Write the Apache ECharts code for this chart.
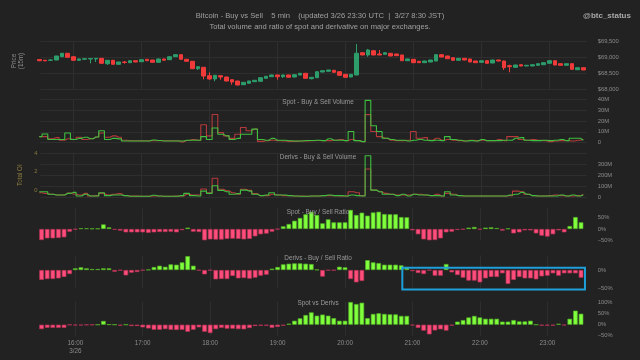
<!DOCTYPE html>
<html><head><meta charset="utf-8">
<script src="https://cdn.jsdelivr.net/npm/echarts@6/dist/echarts.min.js"></script>
<style>html,body{margin:0;padding:0;background:#222222;}#c{width:640px;height:360px;}</style>
</head><body><div id="c"></div>
<script>
// ---------- data ----------
const startTime = [2024, 2, 26, 15, 30]; // 3/26 15:30 (local)
const stepMinutes = 5;
const dateLabel = '3/26';

// [open, close, low, high]
const priceOHLC = [
[68922,68884,68870,68930],[68900,68880,68870,68905],[68897,68906,68890,68930],[68906,69031,68900,69035],
[69009,69116,69000,69125],[69116,68991,68985,69120],[69009,68897,68890,69015],[68897,68938,68890,68945],
[68928,68947,68920,68955],[68938,68953,68803,68960],[68940,68959,68844,68965],[68959,68803,68795,68965],
[68791,68897,68750,68900],[68897,68772,68765,68905],[68772,68844,68765,68850],[68844,68830,68791,68875],
[68822,68884,68815,68890],[68884,68844,68838,68890],[68853,68916,68845,68925],[68928,68884,68878,68935],
[68906,68834,68828,68912],[68834,68938,68828,68945],[68938,68897,68890,68945],[68916,69009,68910,69015],
[69009,69072,69000,69080],[69072,68928,68920,69080],[68928,68866,68860,68935],[68866,68634,68625,68870],
[68634,68697,68594,68705],[68678,68406,68303,68685],[68416,68313,68291,68522],[68313,68428,68241,68435],
[68416,68375,68291,68420],[68375,68250,68240,68380],[68291,68219,68134,68300],[68250,68125,68115,68255],
[68134,68209,68125,68215],[68178,68250,68170,68255],[68228,68272,68220,68280],[68241,68353,68235,68360],
[68334,68397,68328,68405],[68384,68438,68378,68445],[68438,68384,68291,68445],[68384,68438,68345,68445],
[68438,68366,68360,68445],[68375,68447,68368,68455],[68438,68491,68430,68498],[68491,68334,68328,68498],
[68322,68366,68300,68375],[68353,68541,68345,68548],[68531,68572,68525,68580],[68553,68594,68548,68600],
[68584,68522,68515,68590],[68541,68428,68420,68548],[68459,68366,68360,68465],[68375,68459,68368,68465],
[68438,69116,68430,69406],[69134,69063,69055,69140],[69063,69219,69009,69250],[69197,69063,69055,69205],
[69094,69063,69055,69219],[69084,69134,69078,69140],[69116,69031,69025,69122],[69094,69041,69035,69100],
[69063,68884,68878,69070],[68884,68938,68878,68945],[68928,68822,68815,68935],[68866,68822,68815,68872],
[68822,68875,68815,68882],[68844,68906,68838,68912],[68875,69072,68868,69080],[69072,69000,68994,69080],
[69031,68947,68940,69038],[68978,68897,68890,68985],[68897,68959,68890,68965],[68959,68906,68900,68965],
[68938,68844,68838,68945],[68875,68822,68815,68882],[68834,68884,68828,68890],[68884,68803,68796,68890],
[68813,68906,68806,68912],[68906,68875,68868,68912],[68875,68666,68594,68882],[68728,68697,68522,68759],
[68678,68750,68670,68756],[68759,68719,68712,68765],[68719,68741,68712,68748],[68719,68759,68712,68765],
[68741,68791,68735,68798],[68759,68822,68752,68828],[68803,68884,68796,68890],[68884,68750,68744,68890],
[68791,68741,68735,68798],[68741,68791,68735,68798],[68791,68616,68610,68798],[68603,68666,68597,68672],
[68666,68594,68588,68672]
];

// Spot volume (M)
const spotBuy = [5.6,8,3,3,3,9,3,4,5,3.7, 5.3,11,3,4,3.5,1.6,1.5,1.5,1.5,1.5, 2.5,2,1.5,1.5,1.5,1.5,2.3,2.3,2.3,5.6,
 3,13.5,7.8,6.3,3,4,7.8,7.8,12.5,3, 2.3,4,2.3,2.3,1.8,1.5,1.5,2,2,2.3,
 1.9,3.7,2.3,2.3,1.9,10.3,1.9,1,39,15.6, 10.3,4.1,3,2.3,2.3,1.5,2.3,3,2.3,1.9,
 2.3,1.9,5.6,3,2.3,1.5,1.9,1.5,3,1.9, 1.9,1.9,2.3,2.3,4.1,4.7,2.3,1.9,1.9,2.3, 1.9,2.3,3,1.9,4.1,4.1,2.3];
const spotSell = [5.6,5.6,3.6,4.7,2.3,3.7,3,5,3,3.7, 5.3,9,5,6.3,5,2.3,1.8,1.8,1.8,1.8, 1.8,1.8,1.8,1.8,1.8,0.8,2,3,2.3,16.5,
 6.3,26,9.3,6.3,4,7.8,14,11,12.5,1.2, 1.8,2.3,1.8,1.5,1.2,1.2,1.5,1.5,1.8,2,
 1.9,1.9,2.3,3,1.9,3,1.9,1,25.9,10.3, 5.6,4.1,2.3,1.9,1.9,2.3,10.3,4.1,4.7,2.3,
 4.1,2.3,3,2.3,1.9,1.5,2.3,1.9,2.3,1.9, 1.9,3,1.9,5.6,5.6,3,2.3,3,2.3,1.9, 1,1.5,1.9,1.9,1.5,2.3,3];

// Derivatives volume (M)
const derivBuy = [50,50,27,21,21,35,44,12,27,12, 12,41,15,21,21,15,10,10,10,10, 18,12,10,10,10,15,35,15,12,56,
 35,104,62,50,27,33,65,56,27,15, 21,41,21,21,15,12,10,10,12,12,
 15,21,15,15,12,21,15,12,375,65, 50,27,27,15,27,12,27,21,21,15,
 15,12,50,21,15,12,12,12,12,12, 12,12,12,21,27,44,27,15,12,12, 12,12,21,12,21,12,21];
const derivSell = [41,35,27,21,21,38,30,21,35,12, 15,35,21,27,33,15,12,12,10,10, 12,12,10,10,12,12,27,21,21,75,
 41,171,72,59,41,27,72,62,33,15, 15,27,21,15,15,12,12,10,12,12,
 15,15,15,12,12,50,41,15,255,65, 50,35,27,21,21,21,27,27,21,15,
 27,12,35,27,15,12,12,12,12,12, 12,12,12,15,56,50,27,15,12,12, 15,21,15,12,12,15,27];

// Ratios (%)
const spotRatio = [-48,-40.6,-40.6,-39,-36,-11.6,-2,3,3,2, 2,20,7,-3,-7,-14.5,-14.5,-14.5,-14.5,-17,
 -14.5,-13,-13,-11.6,-14.5,-5,6,-11.6,-13,-49, -45,-46,-46,-43,-42,-43,-45,-43,-32,-23,
 -20,-11.6,-1,11.6,21.7,36,48,64,75,61, 24.6,42,29,29,29,83,61,71,58,72,
 75,65,64,64,52,51,-6,-23,-45,-49, -48,-40.6,-14.5,-11.6,-4,-2,6,8.7,-2,6,
 7,4,-7,2,-19,-14.5,-6,-6,-19,-29, -33,-23,-6,-14.5,13,52,29];
const derivRatio = [-27,-24.6,-24.6,-22.8,-19,-11,4.6,7.3,4.6,2.7, 2.7,4.6,4.6,-4.6,-1,-14.6,-7.3,-5.5,-1,1,
 8.2,11.8,9,15.5,14.6,21,38,11.8,-1,-11.8, -1,-25.5,-24.6,-24.6,-16.4,-22.8,-21.9,-23.7,-21,-15.5,
 -12.8,3.6,8.2,15.5,17.3,18.2,18.2,17.3,16.4,1, -18,-1,-1,9,7.3,-24.6,-33.7,-30,27,21,
 19,14.6,14.6,14.6,12.8,8.2,-3,-8.2,-11,-1, -15.5,-15.5,16.4,-6.4,-13.7,-21,-29,-29,-33.7,-22.8,
 -19,-19,-9,-38,-27,-19,-22.8,-22.8,-25.5,-17.3, -15.5,-9,-15.5,-9,-9,-9,-21];
const spotVsDeriv = [-20,-14,-14,-14,-14,-1,-3,-3,-1,-1, 0,17,1,0,-4,0,-6,-6,-12,-17,
 -23,-23,-20,-23,-24,-23,-32,-23,-12,-32, -38,-20,-14,-18,-18,-20,-21,-15,-6,-4.5,
 -4.5,-14,-10,-4.5,4.5,18,29,44,56,41, 46,41,30,18,18,103,94,100,30,49,
 52,49,47,47,40,40,-3,-14,-27,-44, -26,-21,-27,-4,14,21,33,40,33,27,
 27,27,14,14,21,15,15,18,0,-4, -4,-4,4,-3,27,64,50];

// highlighted box on the derivs ratio panel: [from bar, to bar, top %, bottom %]
const highlightBox = [64.2, 96.7, 6, -53];

// ---------- build ----------
const MIN = 60000, HOUR = 3600000;
const t0 = new Date(startTime[0], startTime[1], startTime[2], startTime[3], startTime[4]).getTime();
const tAt = k => t0 + k * stepMinutes * MIN;
const times = priceOHLC.map((_, i) => tAt(i));
const tMin = tAt(0.2), tMax = tAt(96.6);

const FONT = "'Liberation Sans', Arial, sans-serif";
const TXT = '#8c8c8c';
const GRIDC = '#2e2e2e';
const CAND_UP = '#2e9d6c', CAND_DN = '#f03a3a';
const LINE_G = '#3fbf3f', LINE_R = '#b53a3c';
const BAR_G = '#80ff3c', BAR_GB = '#55b02a', BAR_R = '#ff4d7c', BAR_RB = '#b83458';

const GL = 40.4, GR = 53.3;
const gridDefs = [
  {top: 41, height: 48},
  {top: 99.3, height: 43.4},
  {top: 152.9, height: 44.4},
  {top: 208.3, height: 32.2},
  {top: 255.4, height: 32.9},
  {top: 301.6, height: 34.1}
];

const labelStyle = {color: TXT, fontSize: 5.8, fontFamily: FONT, margin: 11};
function xAxis(i, show) {
  return {
    type: 'time', gridIndex: i, min: tMin, max: tMax,
    minInterval: HOUR, maxInterval: HOUR, splitNumber: 8,
    axisLine: {show: false}, axisTick: {show: false},
    splitLine: {show: true, showMinLine: false, showMaxLine: false, lineStyle: {color: GRIDC, width: 1}},
    axisLabel: {
      show: show, color: TXT, fontSize: 6.3, fontFamily: FONT, margin: 4, lineHeight: 7.5,
      hideOverlap: false,
      formatter: function (v) {
        const d = new Date(v);
        if (d.getMinutes() !== 0 || d.getSeconds() !== 0) return '';
        const s = String(d.getHours()).padStart(2, '0') + ':00';
        return (v - tMin < HOUR) ? s + '\n' + dateLabel : s;
      }
    }
  };
}
function rightAxis(i, o) {
  return Object.assign({
    type: 'value', gridIndex: i, position: 'right', scale: false,
    axisLine: {show: false}, axisTick: {show: false},
    splitLine: {show: false, lineStyle: {color: GRIDC}},
    axisLabel: Object.assign({}, labelStyle)
  }, o);
}
const pct = v => (v < 0 ? '\u2212' + Math.abs(v) : v) + '%';
const mil = v => v === 0 ? '0' : v + 'M';

const yAxes = [
  rightAxis(0, {min: 68000, max: 69500, interval: 500, splitLine: {show: true, lineStyle: {color: GRIDC}},
    axisLabel: Object.assign({}, labelStyle, {formatter: v => '$' + v.toLocaleString('en-US')})}),
  rightAxis(1, {min: 0, max: 40, interval: 10, splitLine: {show: true, lineStyle: {color: GRIDC}},
    axisLabel: Object.assign({}, labelStyle, {formatter: mil})}),
  rightAxis(2, {min: 0, max: 400, interval: 100, splitLine: {show: true, lineStyle: {color: GRIDC}},
    axisLabel: Object.assign({}, labelStyle, {formatter: mil, showMaxLabel: false})}),
  {type: 'value', gridIndex: 2, position: 'left', min: -0.8, max: 4, interval: 0.4,
    axisLine: {show: false}, axisTick: {show: false}, splitLine: {show: false},
    name: 'Total OI', nameLocation: 'middle', nameRotate: 90, nameGap: 15,
    nameTextStyle: {color: '#8a7a3e', fontSize: 6.3, fontFamily: FONT},
    axisLabel: {color: '#8a7a3e', fontSize: 5.8, fontFamily: FONT, margin: 3,
      formatter: v => { const r = Math.round(v); return (Math.abs(v - r) < 1e-6 && r >= 0 && r % 2 === 0) ? String(r) : ''; }}},
  rightAxis(3, {min: -50, max: 90, interval: 50, axisLabel: Object.assign({}, labelStyle, {formatter: pct, showMaxLabel: false})}),
  rightAxis(4, {min: -50, max: 40, interval: 50, axisLabel: Object.assign({}, labelStyle, {formatter: pct, showMaxLabel: false})}),
  rightAxis(5, {min: -50, max: 105, interval: 50, axisLabel: Object.assign({}, labelStyle, {formatter: pct, showMaxLabel: false})})
];

const pair = arr => arr.map((v, i) => [times[i], v]);
const bars = arr => arr.map((v, i) => ({
  value: [times[i], v],
  itemStyle: {color: v >= 0 ? BAR_G : BAR_R, borderColor: v >= 0 ? BAR_GB : BAR_RB}
}));
const stepLine = (x, y, arr, color) => ({
  type: 'line', xAxisIndex: x, yAxisIndex: y, step: 'middle', data: pair(arr),
  showSymbol: false, symbol: 'none', lineStyle: {color: color, width: 1.1}, silent: true
});
const barSeries = (x, y, arr) => ({
  type: 'bar', xAxisIndex: x, yAxisIndex: y, data: bars(arr), barWidth: 4.6,
  itemStyle: {borderWidth: 0.7}, silent: true
});

const panelTitle = (text, y) => ({
  type: 'text', x: 318, y: y, z: 100,
  style: {text: text, fill: '#9a9a9a', font: '6.4px ' + FONT, textAlign: 'center', textVerticalAlign: 'middle'}
});

const option = {
  backgroundColor: '#222222',
  animation: false,
  grid: gridDefs.map(g => ({left: GL, right: GR, top: g.top, height: g.height, containLabel: false})),
  xAxis: gridDefs.map((g, i) => xAxis(i, i === gridDefs.length - 1)),
  yAxis: yAxes,
  series: [
    {type: 'candlestick', xAxisIndex: 0, yAxisIndex: 0, barWidth: 4,
     data: priceOHLC.map((c, i) => [times[i], c[0], c[1], c[2], c[3]]),
     itemStyle: {color: CAND_UP, color0: CAND_DN, borderColor: CAND_UP, borderColor0: CAND_DN, borderWidth: 1}},
    stepLine(1, 1, spotSell, LINE_R),
    stepLine(1, 1, spotBuy, LINE_G),
    stepLine(2, 2, derivSell, LINE_R),
    stepLine(2, 2, derivBuy, LINE_G),
    barSeries(3, 4, spotRatio),
    barSeries(4, 5, derivRatio),
    barSeries(5, 6, spotVsDeriv)
  ],
  graphic: [
    {type: 'text', id: 't1', x: 320, y: 16, style: {text: 'Bitcoin - Buy vs Sell    5 min    (updated 3/26 23:30 UTC  |  3/27 8:30 JST)',
      fill: '#a0a0a0', font: '7.6px ' + FONT, textAlign: 'center', textVerticalAlign: 'middle'}},
    {type: 'text', id: 't2', x: 320, y: 27, style: {text: 'Total volume and ratio of spot and derivative on major exchanges.',
      fill: '#a0a0a0', font: '7.6px ' + FONT, textAlign: 'center', textVerticalAlign: 'middle'}},
    {type: 'text', id: 't3', x: 607, y: 16, style: {text: '@btc_status',
      fill: '#a8a8a8', font: 'bold 8px ' + FONT, textAlign: 'center', textVerticalAlign: 'middle'}},
    {type: 'text', id: 't4', x: 18, y: 61, rotation: Math.PI / 2, style: {text: 'Price\n(15m)',
      fill: '#8c8c8c', font: '6.3px ' + FONT, textAlign: 'center', textVerticalAlign: 'middle', lineHeight: 7.5}},
    Object.assign({id: 'p1'}, panelTitle('Spot - Buy & Sell Volume', 102.7)),
    Object.assign({id: 'p2'}, panelTitle('Derivs - Buy & Sell Volume', 157.5)),
    Object.assign({id: 'p3'}, panelTitle('Spot - Buy / Sell Ratio', 211.8)),
    Object.assign({id: 'p4'}, panelTitle('Derivs - Buy / Sell Ratio', 258)),
    Object.assign({id: 'p5'}, panelTitle('Spot vs Derivs', 303.5))
  ]
};

const chart = echarts.init(document.getElementById('c'), null, {renderer: 'canvas'});
chart.setOption(option);

// highlight box placed through the panel's own coordinate system
const a = chart.convertToPixel({gridIndex: 4}, [tAt(highlightBox[0]), highlightBox[2]]);
const b = chart.convertToPixel({gridIndex: 4}, [tAt(highlightBox[1]), highlightBox[3]]);
chart.setOption({graphic: [{type: 'rect', id: 'box', z: 90,
  shape: {x: a[0], y: a[1], width: b[0] - a[0], height: b[1] - a[1]},
  style: {fill: 'none', stroke: '#1e9fd9', lineWidth: 2}}]});
</script>
</body></html>
